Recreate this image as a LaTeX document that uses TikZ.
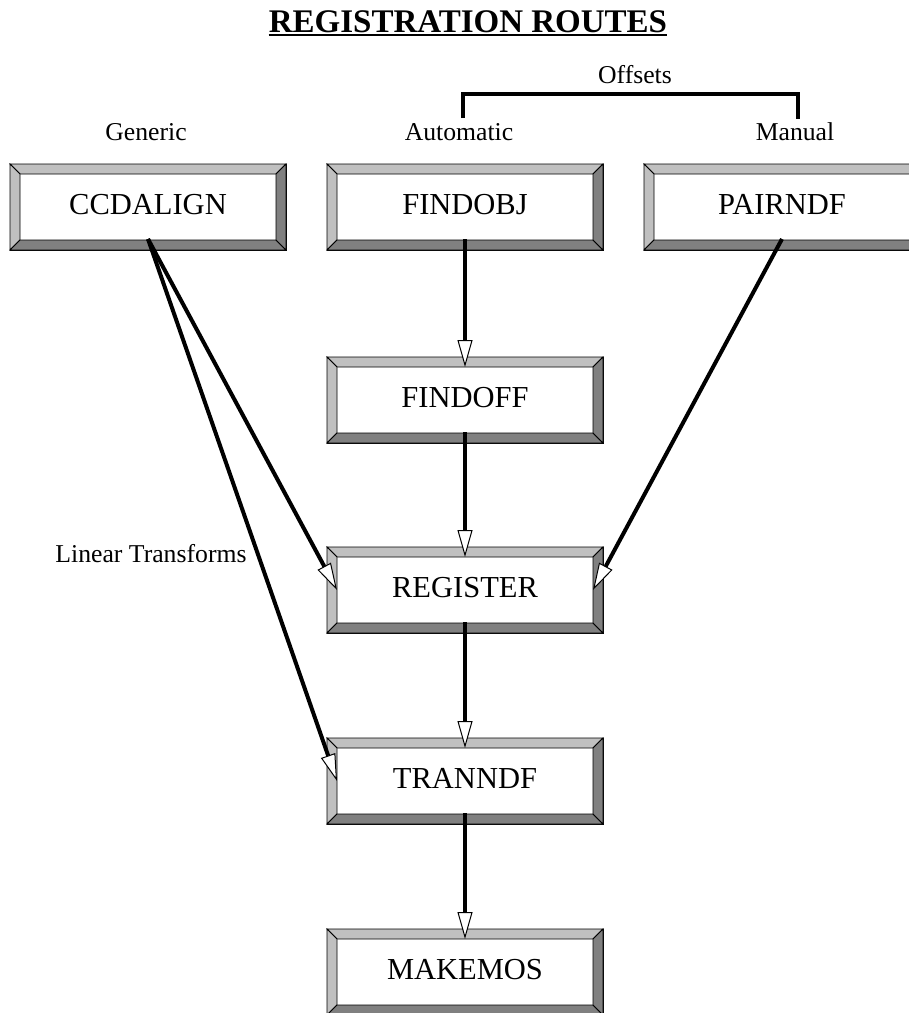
\documentclass[tikz,border=0pt]{standalone}
\usepackage{fontspec}
\setmainfont{Liberation Serif}
\usetikzlibrary{arrows.meta,calc}
\definecolor{bevlight}{HTML}{C0C0C0}
\definecolor{bevdark}{HTML}{808080}
\begin{document}
\begin{tikzpicture}[x=1pt,y=1pt,
  prog/.style={draw=black, line width=0.8pt, fill=white, minimum width=276pt,
    minimum height=86pt, inner sep=0pt, outer sep=0pt,
    font=\fontsize{30.5}{36}\selectfont, text height=20pt, text depth=6pt},
  lbl/.style={font=\fontsize{25.7}{30}\selectfont, inner sep=0pt, anchor=base},
  bev/.style={draw=black, line width=0.8pt},
  flow/.style={line width=4pt, -{Triangle[length=27pt,width=15pt,fill=white,line width=1pt]}},
  bracket/.style={line width=4pt}]
\useasboundingbox (0,0) rectangle (909,-1013);
% title
\node[font=\fontsize{33}{38}\selectfont\bfseries, inner sep=0pt, anchor=base] (title) at (468,-32) {REGISTRATION ROUTES};
\draw[line width=2pt] ([yshift=-3pt]title.base west) -- ([yshift=-3pt]title.base east);
% labels
\node[lbl] (offl) at (635,-83) {Offsets};
\node[lbl] (gen) at (146,-140) {Generic};
\node[lbl] (auto) at (459,-140) {Automatic};
\node[lbl] (man) at (795,-140) {Manual};
\node[lbl] (lin) at (151,-562) {Linear Transforms};
% bracket
\coordinate (bl) at (463,-118);
\coordinate (br) at (798,-119);
\draw[bracket] (bl) -- ($(bl)+(0,24)$) -| (br);
% boxes
\node[prog] (ccd) at (148,-207) {CCDALIGN};
\node[prog] (fobj) at (465,-207) {FINDOBJ};
\node[prog] (pair) at (782,-207) {PAIRNDF};
\node[prog] (foff) at (465,-400) {FINDOFF};
\node[prog] (reg) at (465,-590) {REGISTER};
\node[prog] (tran) at (465,-781) {TRANNDF};
\node[prog] (mak) at (465,-972) {MAKEMOS};
\foreach \n in {ccd,fobj,pair,foff,reg,tran,mak}{
  \filldraw[bev, fill=bevlight] (\n.north west) -- (\n.north east) -- ([shift={(-10,-10)}]\n.north east) -- ([shift={(10,-10)}]\n.north west) -- cycle;
  \filldraw[bev, fill=bevlight] (\n.north west) -- ([shift={(10,-10)}]\n.north west) -- ([shift={(10,10)}]\n.south west) -- (\n.south west) -- cycle;
  \filldraw[bev, fill=bevdark] (\n.south west) -- ([shift={(10,10)}]\n.south west) -- ([shift={(-10,10)}]\n.south east) -- (\n.south east) -- cycle;
  \filldraw[bev, fill=bevdark] (\n.south east) -- ([shift={(-10,10)}]\n.south east) -- ([shift={(-10,-10)}]\n.north east) -- (\n.north east) -- cycle;
}
% connectors
\draw[flow] ([yshift=11pt]fobj.south) -- ([yshift=-10pt]foff.north);
\draw[flow] ([yshift=11pt]foff.south) -- ([yshift=-10pt]reg.north);
\draw[flow] ([yshift=11pt]reg.south) -- ([yshift=-10pt]tran.north);
\draw[flow] ([yshift=11pt]tran.south) -- ([yshift=-10pt]mak.north);
\draw[flow] ([yshift=11pt]ccd.south) -- ([xshift=10pt]reg.west);
\draw[flow] ([yshift=11pt]ccd.south) -- ([xshift=10pt]tran.west);
\draw[flow] ([yshift=11pt]pair.south) -- ([xshift=-10pt]reg.east);
\end{tikzpicture}
\end{document}
